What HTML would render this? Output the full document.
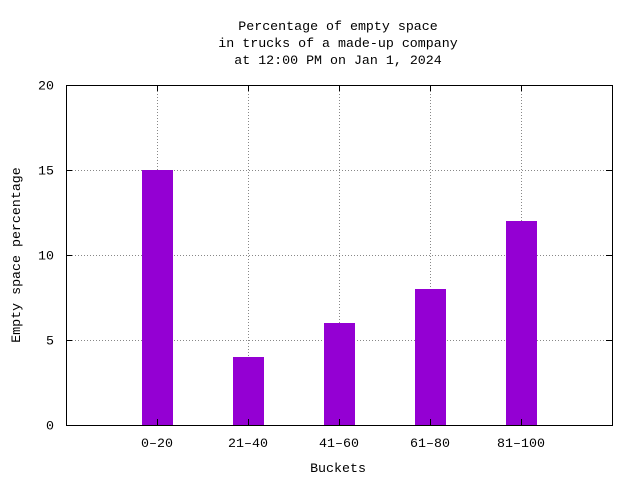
<!DOCTYPE html>
<html><head><meta charset="utf-8"><style>
body{margin:0;background:#fff}
text{font-family:"Liberation Mono","DejaVu Sans Mono",monospace;font-size:13.3px;fill:#000}
</style></head><body>
<svg id="chart" width="640" height="480" xmlns="http://www.w3.org/2000/svg">
<g>
<text x="338" y="30" text-anchor="middle">Percentage of empty space</text>
<text x="338" y="47" text-anchor="middle">in trucks of a made-up company</text>
<text x="338" y="64" text-anchor="middle">at 12:00 PM on Jan 1, 2024</text>
</g>
<g id="grid"></g>
<g id="bars"></g>
<rect x="66.5" y="85.5" width="546" height="340" fill="none" stroke="#000"/>
<g id="ticks"></g>
<text x="338" y="472" text-anchor="middle">Buckets</text>
<text transform="translate(20,255) rotate(-90)" text-anchor="middle">Empty space percentage</text>
</svg>
<script>
const categories=["0–20","21–40","41–60","61–80","81–100"];
const values=[15,4,6,8,12];
const yTicks=[0,5,10,15,20];
const L=66,R=612,T=85,B=425;
const xs=i=>L+(i+1)*(R-L)/(categories.length+1);
const ys=v=>B-(v/20)*(B-T);
const NS="http://www.w3.org/2000/svg";
const grid=document.getElementById('grid'),bars=document.getElementById('bars'),ticks=document.getElementById('ticks');
function mk(tag,attrs,parent){const e=document.createElementNS(NS,tag);for(const k in attrs)e.setAttribute(k,attrs[k]);parent.appendChild(e);return e;}
yTicks.forEach(v=>{
 const y=Math.round(ys(v))+0.5;
 if(v>0&&v<20){const g=mk('line',{x1:L,x2:R,y1:y,y2:y,stroke:'#888','stroke-dasharray':'1,2'},grid);
 
 }
 const t=mk('line',{x1:L,x2:L+6,y1:y,y2:y,stroke:'#000'},ticks);
 
 
 const t2=mk('line',{x1:R-6,x2:R,y1:y,y2:y,stroke:'#000'},ticks);
 
 
 const lb=mk('text',{x:L-12,y:y+4,'text-anchor':'end'},ticks);lb.textContent=v;
 
 
});
categories.forEach((c,i)=>{
 const x=Math.round(xs(i))+0.5;
 const g=mk('line',{x1:x,x2:x,y1:T,y2:B,stroke:'#888','stroke-dasharray':'1,2'},grid);
 
 
 const b=mk('rect',{x:xs(i)-15,y:ys(values[i]),width:31,height:B-ys(values[i]),fill:'#9400d3'},bars);
 
 
 const t=mk('line',{x1:x,x2:x,y1:B-6,y2:B,stroke:'#000'},ticks);
 
 
 const t2=mk('line',{x1:x,x2:x,y1:T,y2:T+6,stroke:'#000'},ticks);
 
 
 const lb=mk('text',{x:xs(i),y:447,'text-anchor':'middle'},ticks);lb.textContent=c;
 
 
});
</script>
</body></html>
